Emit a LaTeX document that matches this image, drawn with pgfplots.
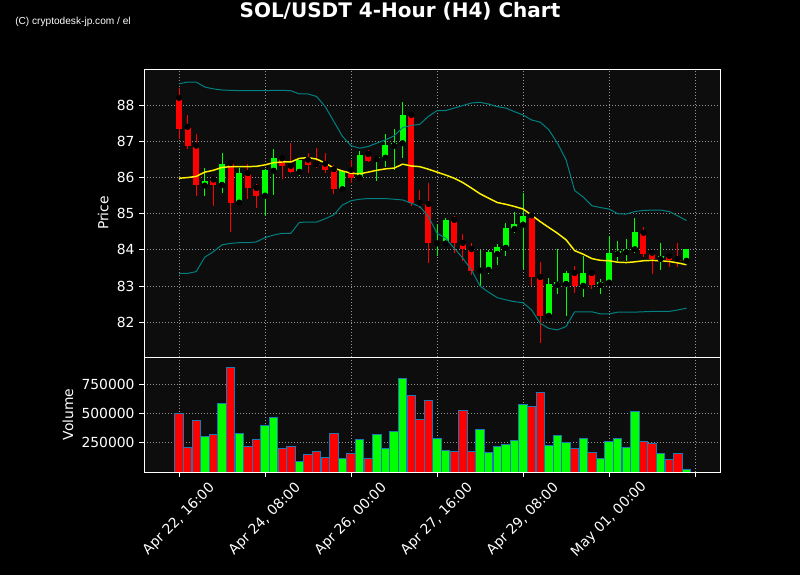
\documentclass[border=0pt]{standalone}
\usepackage{fontspec}
\setmainfont{DejaVu Sans}
\newfontfamily\wmfont{Liberation Sans}
\usepackage{pgfplots}
\usepackage{pgfplotstable}
\pgfplotsset{compat=1.18}
\definecolor{axbg}{RGB}{13,13,13}
\definecolor{upc}{RGB}{0,255,0}
\definecolor{dnc}{RGB}{255,0,0}
\definecolor{bband}{RGB}{0,128,128}
\definecolor{vedge}{RGB}{31,119,180}
\definecolor{gridc}{RGB}{150,150,150}

\pgfplotstableread{
i O H L C V
3 85.78 86.26 85.50 85.91 305000
5 85.80 86.67 85.57 86.38 587000
7 85.31 86.26 85.31 86.12 331000
10 85.50 86.23 84.94 86.21 399000
11 86.19 86.78 85.53 86.53 467000
14 86.16 86.49 86.05 86.49 91000
19 85.68 86.18 85.63 86.18 117000
21 86.00 86.72 85.94 86.62 279000
23 86.51 86.58 85.90 86.57 322000
24 86.55 87.20 86.29 86.90 202000
25 86.88 87.34 86.21 86.96 348000
26 86.95 88.08 86.53 87.73 801000
30 84.18 84.72 83.82 84.20 288000
31 84.18 84.89 84.12 84.83 185000
35 83.43 84.01 82.99 83.47 365000
36 83.45 84.00 83.33 83.93 168000
37 83.89 84.17 83.58 84.08 219000
38 84.06 84.74 83.82 84.61 237000
39 84.58 85.06 84.46 84.72 271000
40 84.70 85.57 83.47 84.95 579000
43 82.18 83.22 82.16 83.06 228000
44 83.04 84.02 82.77 83.10 313000
45 83.06 83.41 82.17 83.36 254000
47 83.01 83.82 82.69 83.36 288000
49 83.03 83.19 82.78 83.12 117000
50 83.10 84.39 83.10 83.92 262000
51 83.89 84.24 83.70 83.97 288000
52 83.94 84.29 83.70 84.03 211000
53 84.02 84.88 83.91 84.50 519000
56 83.75 84.18 83.44 83.83 160000
59 83.70 84.03 83.70 84.03 23000
}\up

\pgfplotstableread{
i O H L C V
0 88.20 88.48 87.06 87.35 500000
1 87.40 87.73 86.80 86.86 211000
2 86.88 87.20 85.48 85.78 442000
4 85.94 85.95 85.21 85.80 322000
6 86.40 86.42 84.49 85.31 895000
8 86.12 86.37 85.40 85.70 219000
9 85.71 85.82 85.15 85.50 279000
12 86.53 86.58 85.95 86.33 202000
13 86.32 86.95 86.12 86.16 219000
15 86.49 86.67 86.12 86.36 151000
16 86.38 86.81 86.26 86.35 177000
17 86.38 86.67 86.12 86.22 125000
18 86.23 86.34 85.54 85.68 331000
20 86.21 86.49 85.84 86.00 160000
22 86.65 86.75 86.42 86.47 117000
27 87.73 87.82 85.20 85.29 655000
28 85.30 85.66 85.15 85.25 450000
29 85.27 85.84 83.63 84.18 613000
32 84.83 84.93 83.91 84.18 177000
33 84.19 84.43 83.68 84.02 527000
34 84.02 84.19 83.31 83.43 177000
41 84.95 84.95 83.00 83.25 561000
42 83.25 83.66 81.42 82.18 681000
46 83.36 83.55 82.80 83.01 202000
48 83.36 83.45 82.91 83.03 168000
54 84.47 84.63 83.80 83.90 262000
55 83.92 83.92 83.34 83.75 245000
57 83.83 83.89 83.54 83.72 108000
58 83.75 84.18 83.52 83.70 160000
}\dn

\pgfplotstableread{
i SMA UB LB
0 85.98 88.59 83.35
1 86.00 88.64 83.35
2 86.03 88.64 83.40
3 86.15 88.50 83.80
4 86.20 88.45 83.95
5 86.28 88.42 84.14
6 86.30 88.41 84.18
7 86.30 88.40 84.20
8 86.30 88.40 84.20
9 86.31 88.40 84.22
10 86.35 88.40 84.34
11 86.41 88.41 84.41
12 86.43 88.41 84.46
13 86.43 88.40 84.46
14 86.53 88.31 84.76
15 86.55 88.31 84.77
16 86.51 88.24 84.77
17 86.40 87.96 84.86
18 86.26 87.55 84.97
19 86.18 87.14 85.24
20 86.12 86.88 85.36
21 86.10 86.81 85.40
22 86.15 86.86 85.42
23 86.20 86.95 85.42
24 86.24 87.04 85.42
25 86.26 87.15 85.40
26 86.37 87.38 85.38
27 86.32 87.44 85.29
28 86.30 87.47 85.20
29 86.23 87.69 84.92
30 86.15 87.85 84.46
31 86.07 87.85 84.32
32 85.98 87.92 84.05
33 85.86 87.99 83.77
34 85.71 88.06 83.45
35 85.55 88.08 83.00
36 85.43 88.03 82.83
37 85.31 87.96 82.68
38 85.26 87.92 82.62
39 85.20 87.82 82.57
40 85.13 87.73 82.54
41 84.96 87.59 82.34
42 84.78 87.53 81.97
43 84.62 87.32 81.83
44 84.46 86.95 81.79
45 84.28 86.49 81.88
46 83.98 85.64 82.29
47 83.88 85.46 82.29
48 83.76 85.22 82.29
49 83.71 85.17 82.23
50 83.70 85.13 82.23
51 83.66 85.00 82.28
52 83.65 84.99 82.28
53 83.67 85.06 82.28
54 83.70 85.09 82.29
55 83.71 85.10 82.30
56 83.70 85.10 82.30
57 83.68 85.06 82.30
58 83.64 84.94 82.34
59 83.59 84.81 82.39
}\ind

\pgfplotsset{
  darkax/.style={
    anchor=south west, scale only axis, width=432pt,
    xmin=-4.07, xmax=62.9,
    axis background/.style={fill=axbg},
    axis line style={white, line width=0.6pt},
    tick style={white, line width=0.6pt},
    tick align=outside, major tick length=3.6pt,
    xtick={0,10,20,30,40,50,60},
    xtick pos=bottom, ytick pos=left,
    grid=major,
    grid style={gridc, line width=0.6pt, dash pattern=on 0.75pt off 1.5pt},
    ticklabel style={white, font=\fontsize{10.4}{12}\selectfont},
    label style={white, font=\fontsize{10.4}{12}\selectfont},
    /pgf/number format/assume math mode=true,
  }
}

\begin{document}
\begin{tikzpicture}
\fill[black] (0pt,0pt) rectangle (600pt,431.25pt);
\useasboundingbox (0pt,0pt) rectangle (600pt,431.25pt);

\begin{axis}[darkax, at={(108pt,163.5pt)}, height=216pt,
  ymin=81.04, ymax=89.0, ytick={82,83,84,85,86,87,88},
  xticklabels={},
  ylabel={Price},
  ylabel style={at={(axis description cs:-0.071,0.5)}, anchor=center},
]
% wicks
\addplot[only marks, mark=none, forget plot,
  error bars/.cd, y dir=both, y explicit, error mark=none,
  error bar style={upc, line width=0.75pt, solid}]
  table[x=i, y=O, y error plus expr=\thisrow{H}-\thisrow{O}, y error minus expr=\thisrow{O}-\thisrow{L}] {\up};
\addplot[only marks, mark=none, forget plot,
  error bars/.cd, y dir=both, y explicit, error mark=none,
  error bar style={dnc, line width=0.75pt, solid}]
  table[x=i, y=O, y error plus expr=\thisrow{H}-\thisrow{O}, y error minus expr=\thisrow{O}-\thisrow{L}] {\dn};
% bodies
\addplot[only marks, mark=none, forget plot,
  error bars/.cd, y dir=plus, y explicit, error mark=none,
  error bar style={upc, line width=4.5pt, solid}]
  table[x=i, y=O, y error expr=\thisrow{C}-\thisrow{O}] {\up};
\addplot[only marks, mark=none, forget plot,
  error bars/.cd, y dir=minus, y explicit, error mark=none,
  error bar style={dnc, line width=4.5pt, solid}]
  table[x=i, y=O, y error expr=\thisrow{O}-\thisrow{C}] {\dn};
% indicators
\addplot[bband, line width=0.75pt, mark=none] table[x=i, y=UB] {\ind};
\addplot[bband, line width=0.75pt, mark=none] table[x=i, y=LB] {\ind};
\addplot[yellow, line width=1.1pt, mark=none] table[x=i, y=SMA] {\ind};
\end{axis}

\begin{axis}[darkax, at={(108pt,77.25pt)}, height=86.25pt,
  ymin=0, ymax=985000, ytick={250000,500000,750000},
  scaled y ticks=false,
  yticklabel style={/pgf/number format/fixed, /pgf/number format/1000 sep={}},
  xticklabels={{Apr 22, 16:00},{Apr 24, 08:00},{Apr 26, 00:00},{Apr 27, 16:00},{Apr 29, 08:00},{May 01, 00:00},{}},
  xticklabel style={anchor=center, yshift=-32pt, rotate=45},
  ylabel={Volume},
  ylabel style={at={(axis description cs:-0.132,0.5)}, anchor=center},
]
\addplot[ybar, bar width=0.97, bar shift=0pt, fill=upc, draw=vedge, line width=0.6pt] table[x=i, y=V] {\up};
\addplot[ybar, bar width=0.97, bar shift=0pt, fill=dnc, draw=vedge, line width=0.6pt] table[x=i, y=V] {\dn};
\end{axis}

\node[anchor=base, white, font=\bfseries\fontsize{15}{17}\selectfont] at (300pt,418.1pt) {SOL/USDT 4-Hour (H4) Chart};
\node[anchor=base west, inner sep=0pt, white, font=\wmfont\fontsize{7.6}{9}\selectfont] at (11.25pt,413.2pt) {(C) cryptodesk-jp.com / el};
\end{tikzpicture}
\end{document}
